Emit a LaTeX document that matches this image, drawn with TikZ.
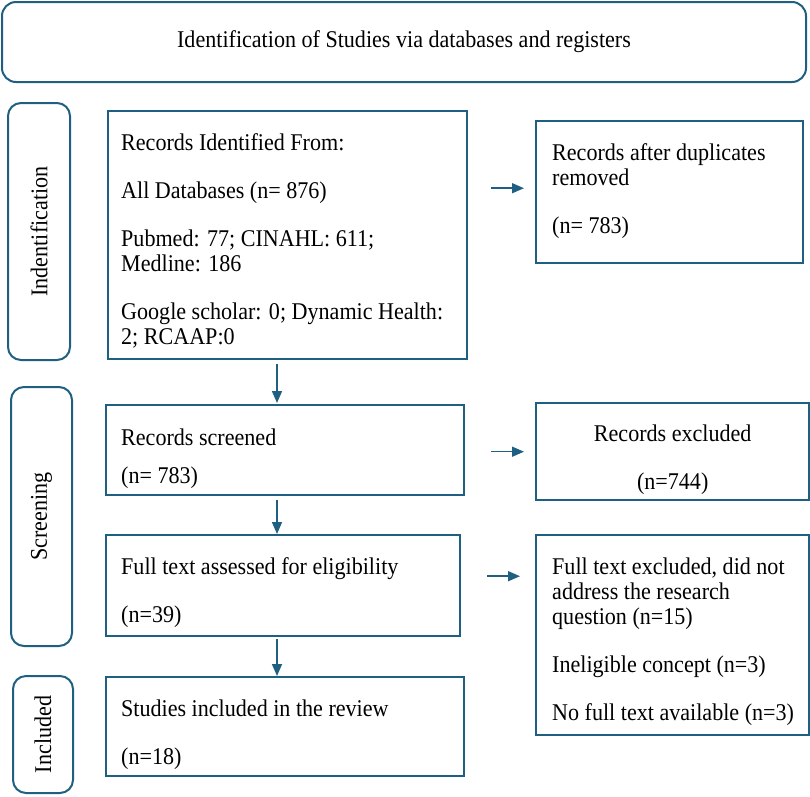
\documentclass[tikz,border=0pt]{standalone}
\usepackage{fontspec}
\setmainfont{Liberation Serif}[FakeStretch=0.92]
\usetikzlibrary{arrows.meta}
\definecolor{pblue}{RGB}{31,96,130}
\newcommand\bxt[5]{\parbox[c][#2][t]{#1}{\fontsize{24}{25}\selectfont
  \setlength\leftskip{#3}\setlength\rightskip{-40pt plus 1fil}\setlength\parindent{0pt}\lineskiplimit=-20pt
  \rule{0pt}{#4}\setlength\parskip{23pt}#5\par}}
\newcommand\bxc[4]{\parbox[c][#2][t]{#1}{\fontsize{24}{25}\selectfont
  \setlength\leftskip{0pt plus 1fil}\setlength\rightskip{0pt plus 1fil}\setlength\parfillskip{0pt}\setlength\parindent{0pt}\lineskiplimit=-20pt
  \rule{0pt}{#3}\setlength\parskip{23pt}#4\par}}
\begin{document}
\begin{tikzpicture}[x=1pt,y=-1pt,
  box/.style={draw=pblue, line width=2.4pt, inner sep=0pt, anchor=north west},
  lab/.style={draw=pblue, line width=2pt, rounded corners=13pt, inner sep=0pt, rotate=90, font=\fontsize{24}{25}\selectfont},
  arr/.style={draw=pblue, line width=1.5pt, -{Triangle[length=12pt,width=10pt]}}]
\useasboundingbox (0,0) rectangle (810,796);
% title
\node[draw=pblue, line width=2pt, rounded corners=14pt, minimum width=804pt, minimum height=80pt, inner sep=0pt,
  font=\fontsize{24}{25}\selectfont] (title) at (404,42) {Identification of Studies via databases and registers};
% stage labels
\node[lab, minimum width=257pt, minimum height=62pt] (lid) at (39,231.5) {Indentification};
\node[lab, minimum width=259pt, minimum height=61pt] (lscr) at (41.5,516.5) {Screening};
\node[lab, minimum width=117pt, minimum height=60pt] (linc) at (43,734.5) {Included};
% boxes
\node[box] (ident) at (107,110) {\bxt{359pt}{248pt}{13pt}{39pt}{Records Identified From:\par All Databases (n= 876)\par Pubmed: 77; CINAHL: 611;\\ Medline: 186\par Google scholar: 0; Dynamic Health:\\ 2; RCAAP:0}};
\node[box] (dup) at (535,120) {\bxt{267pt}{142pt}{16pt}{39pt}{Records after duplicates\\ removed\par (n= 783)}};
\node[box] (scr) at (105,404) {\bxt{358pt}{90pt}{15pt}{40pt}{Records screened\\[13pt](n= 783)}};
\node[box] (excl) at (535,402) {\bxc{273pt}{97pt}{38pt}{Records excluded\par (n=744)}};
\node[box] (full) at (105,534) {\bxt{354pt}{101pt}{15pt}{39pt}{Full text assessed for eligibility\par (n=39)}};
\node[box] (ftex) at (535,534) {\bxt{273pt}{200pt}{16pt}{39pt}{Full text excluded, did not\\ address the research\\ question (n=15)\par Ineligible concept (n=3)\par No full text available (n=3)}};
\node[box] (stud) at (105,676) {\bxt{358pt}{99pt}{15pt}{39pt}{Studies included in the review\par (n=18)}};
% connectors
\coordinate (ax) at (277,0);
\draw[arr, shorten <=4pt, shorten >=1pt] (ident.south -| ax) -- (scr.north -| ax);
\draw[arr, shorten <=4pt] (scr.south -| ax) -- (full.north -| ax);
\draw[arr, shorten <=2pt] (full.south -| ax) -- (stud.north -| ax);
\coordinate (a1) at ([yshift=4pt]dup.west);
\draw[arr, shorten <=23pt, shorten >=11pt] (a1 -| ident.east) -- (a1);
\draw[arr, shorten <=26pt, shorten >=11pt] (excl.west -| scr.east) -- (excl.west);
\coordinate (a3) at ([yshift=9.5pt]full.east);
\draw[arr, shorten <=26pt, shorten >=15pt] (a3) -- (a3 -| ftex.west);
\end{tikzpicture}
\end{document}
